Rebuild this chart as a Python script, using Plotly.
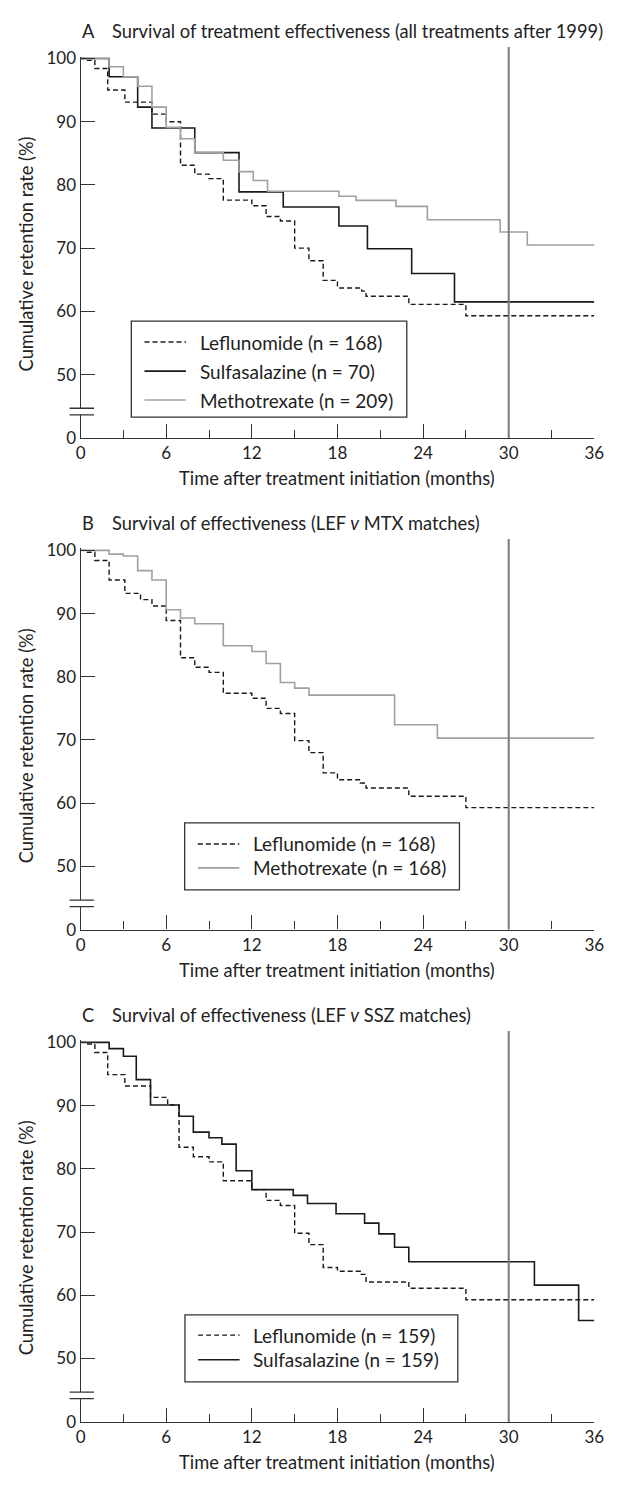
import plotly.graph_objects as go

# target page size and the browser's default body margin
PAGE_W, PAGE_H = 618, 1486
OFF = 8
W, H = PAGE_W - OFF, PAGE_H - OFF
FONT = "Lato"
INK = "#222222"
AXC = "#333333"

# ---------------- data ----------------
x_major = [0, 6, 12, 18, 24, 30, 36]
x_minor = [3, 9, 15, 21, 27, 33]
# broken y axis: position 40 carries the "0" label (0-45 collapsed)
y_tickvals = [40, 50, 60, 70, 80, 90, 100]
y_ticktext = ["0", "50", "60", "70", "80", "90", "100"]

# Panel A
lef_a_t = [0, 0.3, 1, 1.9, 3.1, 5, 6, 7, 8, 9, 10, 12, 13, 14, 15, 16, 17, 18, 19.7, 20, 23, 27, 36]
lef_a_v = [100, 99.7, 98.4, 95.0, 93.1, 91.2, 90.0, 83.1, 81.7, 81.0, 77.6, 76.7, 75.0, 74.3, 70.0, 68.0, 64.9, 63.7, 63.2, 62.4, 61.1, 59.3, 59.3]
ssz_a_t = [0, 2, 4, 5, 8, 11.1, 14.2, 18.1, 20.1, 23.2, 26.2, 36]
ssz_a_v = [100, 97.1, 92.3, 89.0, 85.1, 78.9, 76.5, 73.5, 69.9, 66.0, 61.5, 61.5]
mtx_a_t = [0, 2, 3, 4, 5, 6, 7, 8, 10, 11.1, 12.1, 13.1, 18.1, 19.3, 22.1, 24.3, 29.4, 31.3, 36]
mtx_a_v = [100, 98.7, 97.1, 95.6, 92.3, 89.1, 87.3, 85.1, 83.9, 82.1, 80.7, 79.0, 78.2, 77.55, 76.6, 74.5, 72.55, 70.5, 70.5]

# Panel B
lef_b_t = [0, 0.3, 1, 2, 3.1, 4.2, 5, 6, 7, 8, 9, 10, 12, 13, 14, 15, 16, 17, 18, 19.6, 20, 23, 27, 36]
lef_b_v = [100, 99.7, 98.4, 95.3, 93.2, 92.2, 91.2, 88.9, 83.0, 81.5, 80.7, 77.4, 76.6, 75.0, 74.2, 69.9, 68.0, 64.8, 63.7, 63.2, 62.4, 61.1, 59.3, 59.3]
mtx_b_t = [0, 2, 3, 4, 5, 6, 7, 8, 10, 12, 13, 14, 15, 16, 22, 25, 36]
mtx_b_v = [100, 99.4, 99.1, 96.8, 95.3, 90.6, 89.3, 88.4, 84.9, 84.0, 82.1, 79.1, 78.2, 77.1, 72.4, 70.3, 70.3]

# Panel C
lef_c_t = [0, 0.3, 1, 1.9, 3.1, 4.9, 6.1, 6.9, 7.9, 9, 10, 12, 13, 14, 15, 16, 17, 18, 19.6, 20, 23, 27, 36]
lef_c_v = [100, 99.75, 98.4, 94.9, 93.1, 91.3, 90.1, 83.4, 81.9, 81.1, 78.1, 76.7, 75.0, 74.2, 69.8, 68.0, 64.4, 63.8, 63.3, 62.1, 61.1, 59.3, 59.3]
ssz_c_t = [0, 2, 3, 3.9, 4.9, 6.9, 7.9, 9, 9.9, 10.9, 12, 14.9, 15.9, 17.9, 19.9, 20.9, 22, 23, 31.8, 34.9, 36]
ssz_c_v = [100, 99.0, 97.8, 94.1, 90.1, 88.3, 85.8, 84.9, 83.9, 79.7, 76.7, 75.8, 74.5, 72.9, 71.4, 69.7, 67.6, 65.3, 61.6, 56.0, 56.0]

panel_letters = ["A", "B", "C"]
panel_titles = [
    "Survival of treatment effectiveness (all treatments after 1999)",
    "Survival of effectiveness (LEF <i>v</i> MTX matches)",
    "Survival of effectiveness (LEF <i>v</i> SSZ matches)",
]
x_title = "Time after treatment initiation (months)"
y_title = "Cumulative retention rate (%)"
ref_month = 30

STYLE = {
    "LEF": dict(color="#1a1a1a", width=1.4, dash="5px,3px"),
    "SSZ": dict(color="#1a1a1a", width=1.6, dash="solid"),
    "MTX": dict(color="#a0a0a0", width=1.6, dash="solid"),
}

panels = [
    dict(series=[("LEF", "Leflunomide (n = 168)", lef_a_t, lef_a_v),
                 ("SSZ", "Sulfasalazine (n = 70)", ssz_a_t, ssz_a_v),
                 ("MTX", "Methotrexate (n = 209)", mtx_a_t, mtx_a_v)],
         y40=434.3, y100=50.0,
         legend=dict(x0=129.3, x1=411.7, y0=316.0, y1=413.3, rows=[337.3, 366.7, 396.0])),
    dict(series=[("LEF", "Leflunomide (n = 168)", lef_b_t, lef_b_v),
                 ("MTX", "Methotrexate (n = 168)", mtx_b_t, mtx_b_v)],
         y40=932.5, y100=548.3,
         legend=dict(x0=184.0, x1=465.7, y0=824.3, y1=892.3, rows=[845.7, 870.0])),
    dict(series=[("LEF", "Leflunomide (n = 159)", lef_c_t, lef_c_v),
                 ("SSZ", "Sulfasalazine (n = 159)", ssz_c_t, ssz_c_v)],
         y40=1431.0, y100=1046.7,
         legend=dict(x0=184.3, x1=464.0, y0=1322.7, y1=1390.7, rows=[1343.3, 1368.3])),
]

X0PX, X36PX = 77.3, 604.0
YTOP = 100.3
F_TICK, F_TITLE, F_AXT, F_LEG = 17, 18.3, 18.3, 19


def px(xp):
    """page x pixel -> paper fraction"""
    return (xp - OFF) / W


def py(yp):
    """page y pixel -> paper fraction"""
    return 1 - (yp - OFF) / H


fig = go.Figure()
shapes = []
annotations = []
layout_axes = {}

for i, p in enumerate(panels):
    n = i + 1
    xa = "x" if n == 1 else f"x{n}"
    ya = "y" if n == 1 else f"y{n}"
    scale = (p["y40"] - p["y100"]) / 60.0
    ytop_px = p["y100"] - (YTOP - 100) * scale
    dom_y = [py(p["y40"]), py(ytop_px)]

    for key, name, t, v in p["series"]:
        st = STYLE[key]
        fig.add_trace(go.Scatter(
            x=t, y=v, mode="lines", name=name, showlegend=False,
            line=dict(color=st["color"], width=st["width"], dash=st["dash"], shape="hv"),
            xaxis=xa, yaxis=ya, hoverinfo="skip"))

    layout_axes["xaxis" if n == 1 else f"xaxis{n}"] = dict(
        domain=[px(X0PX), px(X36PX)], range=[0, 36], anchor=ya,
        tickvals=x_major, ticktext=[str(t) for t in x_major],
        ticks="inside", ticklen=14, tickwidth=1.3, tickcolor=AXC,
        minor=dict(tickvals=x_minor, ticks="inside", ticklen=8, tickwidth=1.3, tickcolor=AXC),
        showline=True, linecolor=AXC, linewidth=1.3, showgrid=False, zeroline=False,
        tickfont=dict(family=FONT, size=F_TICK, color=INK), fixedrange=True)
    layout_axes["yaxis" if n == 1 else f"yaxis{n}"] = dict(
        domain=dom_y, range=[40, YTOP], anchor=xa,
        tickvals=y_tickvals, ticktext=y_ticktext,
        ticks="inside", ticklen=14, tickwidth=1.3, tickcolor=AXC,
        showline=True, linecolor=AXC, linewidth=1.3, showgrid=False, zeroline=False,
        tickfont=dict(family=FONT, size=F_TICK, color=INK), fixedrange=True)

    # reference line at 30 months
    shapes.append(dict(type="line", xref=xa, yref=f"{ya} domain", x0=ref_month, x1=ref_month,
                       y0=0, y1=1.025, line=dict(color="#7a7a7a", width=2)))

    # axis break marks
    b_hi, b_lo = 44.68, 43.64
    shapes.append(dict(type="rect", xref="paper", yref=ya, x0=px(73), x1=px(82), y0=b_lo, y1=b_hi,
                       fillcolor="white", line=dict(width=0)))
    for yb in (b_hi, b_lo):
        shapes.append(dict(type="line", xref="paper", yref=ya, x0=px(66), x1=px(91), y0=yb, y1=yb,
                           line=dict(color=AXC, width=1.3)))

    # titles
    title_y = p["y100"] - 27.7
    annotations.append(dict(text=panel_letters[i], xref="paper", yref="paper", x=px(76.5), y=py(title_y),
                            xanchor="left", yanchor="middle", showarrow=False,
                            font=dict(family=FONT, size=F_TITLE, color=INK)))
    annotations.append(dict(text=panel_titles[i], xref="paper", yref="paper", x=px(107.5), y=py(title_y),
                            xanchor="left", yanchor="middle", showarrow=False,
                            font=dict(family=FONT, size=F_TITLE, color=INK)))
    annotations.append(dict(text=x_title, xref="paper", yref="paper", x=px((X0PX + X36PX) / 2),
                            y=py(p["y40"] + 41), xanchor="center", yanchor="middle", showarrow=False,
                            font=dict(family=FONT, size=F_AXT, color=INK)))
    annotations.append(dict(text=y_title, xref="paper", yref="paper", x=px(21.7),
                            y=py((p["y40"] + p["y100"]) / 2 + 6), xanchor="center", yanchor="middle",
                            textangle=-90, showarrow=False, font=dict(family=FONT, size=F_AXT, color=INK)))

    # legend box
    lg = p["legend"]
    shapes.append(dict(type="rect", xref="paper", yref="paper", x0=px(lg["x0"]), x1=px(lg["x1"]),
                       y0=py(lg["y1"]), y1=py(lg["y0"]), line=dict(color=AXC, width=1.3),
                       fillcolor="white"))
    for (key, name, _, _), ry in zip(p["series"], lg["rows"]):
        st = STYLE[key]
        shapes.append(dict(type="line", xref="paper", yref="paper",
                           x0=px(lg["x0"] + 13.5), x1=px(lg["x0"] + 56), y0=py(ry), y1=py(ry),
                           line=dict(color=st["color"], width=st["width"], dash=st["dash"])))
        annotations.append(dict(text=name, xref="paper", yref="paper", x=px(lg["x0"] + 68),
                                y=py(ry), xanchor="left", yanchor="middle", showarrow=False,
                                font=dict(family=FONT, size=F_LEG, color=INK)))

fig.update_layout(
    width=W, height=H, margin=dict(l=0, r=0, t=0, b=0),
    paper_bgcolor="white", plot_bgcolor="white",
    shapes=shapes, annotations=annotations, showlegend=False,
    **layout_axes)

fig.write_html("out.html")
